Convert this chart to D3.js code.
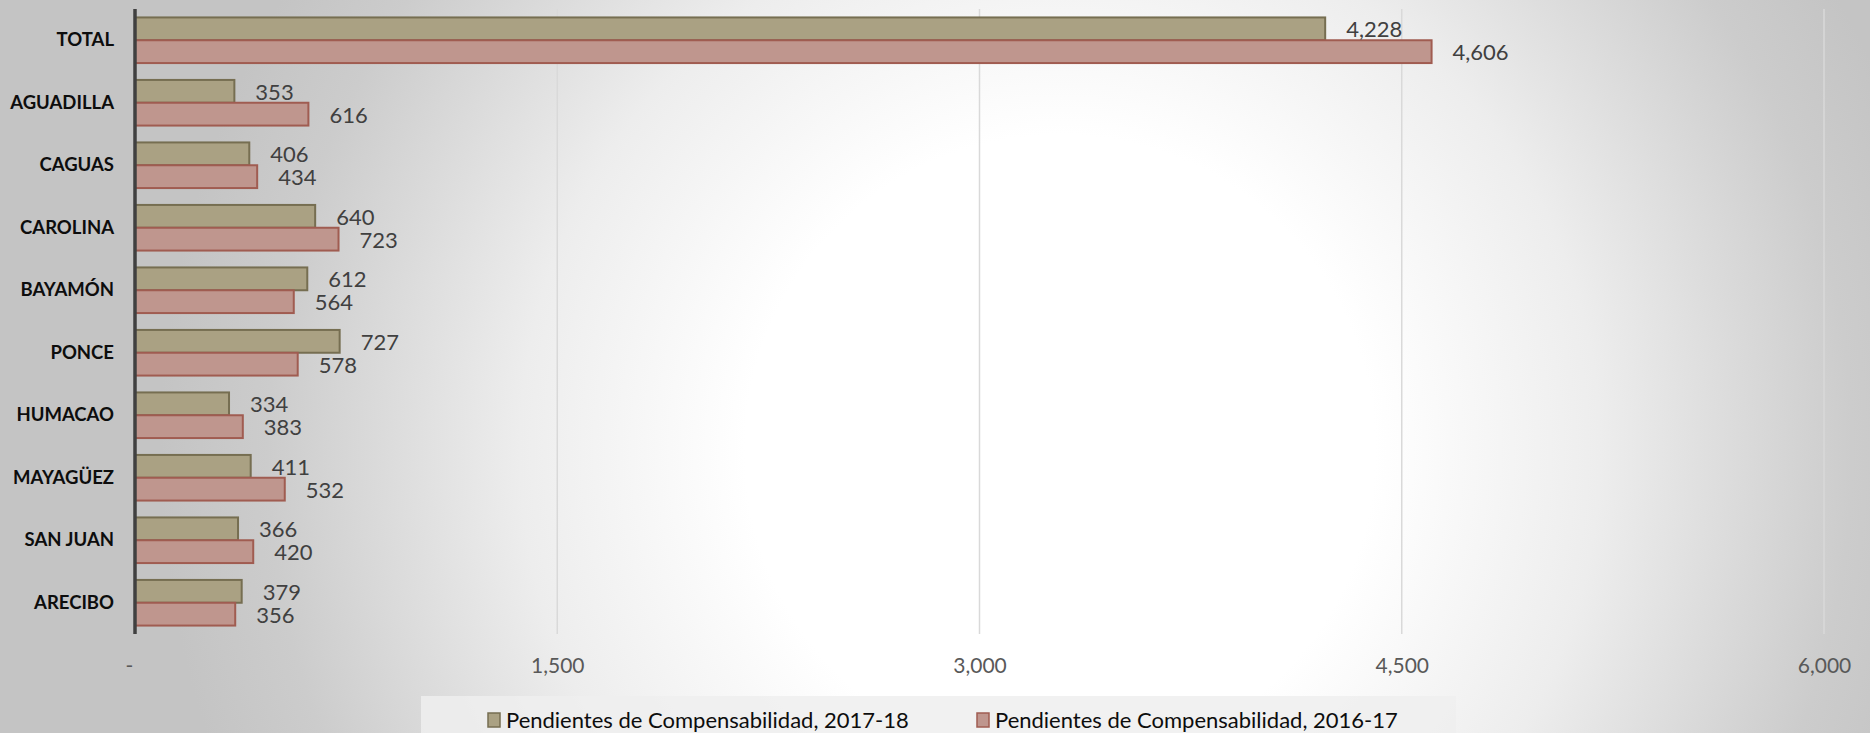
<!DOCTYPE html>
<html>
<head>
<meta charset="utf-8">
<script src="https://cdn.jsdelivr.net/npm/d3@7"></script>
<style>
  html, body { margin: 0; padding: 0; background: #c4c4c4; }
  svg { display: block; }
</style>
</head>
<body>
<div id="chart"></div>
<script>
// data
var categories = ["TOTAL", "AGUADILLA", "CAGUAS", "CAROLINA", "BAYAMÓN", "PONCE", "HUMACAO", "MAYAGÜEZ", "SAN JUAN", "ARECIBO"]
var series = ["Pendientes de Compensabilidad, 2017-18", "Pendientes de Compensabilidad, 2016-17"]
var values1718 = [4228, 353, 406, 640, 612, 727, 334, 411, 366, 379]
var values1617 = [4606, 616, 434, 723, 564, 578, 383, 532, 420, 356]
var xTicks = [0, 1500, 3000, 4500, 6000]

var colors = { fill: ["#aaa183", "#bf968e"], stroke: ["#766e51", "#a05c51"] }

var width = 1870, height = 733
var plot = { left: 135, right: 1824, top: 9, bottom: 634 }

const svg = d3.select("#chart")
  .append("svg")
  .attr("width", width)
  .attr("height", height)

// background radial gradient
const defs = svg.append("defs")
const grad = defs.append("radialGradient")
  .attr("id", "bg")
  .attr("gradientUnits", "userSpaceOnUse")
  .attr("cx", 1060).attr("cy", 450).attr("r", 900)
grad.selectAll("stop")
  .data([[0, "#ffffff"], [0.35, "#ffffff"], [0.6, "#ededed"], [0.88, "#cccccc"], [1, "#c4c4c4"]])
  .join("stop")
  .attr("offset", d => d[0])
  .attr("stop-color", d => d[1])

svg.append("rect")
  .attr("width", width)
  .attr("height", height)
  .attr("fill", "url(#bg)")

const x = d3.scaleLinear()
  .domain([0, 6000])
  .range([plot.left, plot.right])

const y = d3.scaleBand()
  .domain(categories)
  .range([plot.top, plot.bottom])
  .paddingInner(0.27)
  .paddingOuter(0.135)

const ySub = d3.scaleBand()
  .domain(series)
  .range([0, y.bandwidth()])

// gridlines
svg.append("g")
  .selectAll("line")
  .data(xTicks.filter(d => d > 0))
  .join("line")
  .attr("x1", d => x(d)).attr("x2", d => x(d))
  .attr("y1", plot.top).attr("y2", plot.bottom)
  .attr("stroke", "#d9d9d9")
  .attr("stroke-width", 1.5)

// x axis labels
const xAxis = svg.append("g")
  .attr("transform", "translate(0," + (plot.bottom + 32) + ")")
  .call(d3.axisBottom(x)
    .tickValues(xTicks)
    .tickSize(0)
    .tickFormat(d => d === 0 ? "-" : d3.format(",")(d)))
xAxis.select(".domain").remove()
xAxis.selectAll("text")
  .attr("dy", "0.35em")
  .attr("y", 0)
  .attr("fill", "#595959")
  .style("font-family", "Lato, sans-serif")
  .style("font-size", "21px")
xAxis.selectAll(".tick")
  .filter(d => d === 0)
  .select("text")
  .attr("dx", -6)

// bars
const rows = categories.map((c, i) => ({ cat: c, vals: [values1718[i], values1617[i]] }))

const group = svg.append("g")
  .selectAll("g")
  .data(rows)
  .join("g")
  .attr("transform", d => "translate(0," + y(d.cat) + ")")

group.selectAll("rect")
  .data(d => d.vals.map((v, j) => ({ s: series[j], j: j, v: v })))
  .join("rect")
  .attr("x", x(0))
  .attr("y", d => ySub(d.s))
  .attr("width", d => x(d.v) - x(0))
  .attr("height", ySub.bandwidth())
  .attr("fill", d => colors.fill[d.j])
  .attr("stroke", d => colors.stroke[d.j])
  .attr("stroke-width", 2)

group.selectAll("text.val")
  .data(d => d.vals.map((v, j) => ({ s: series[j], j: j, v: v })))
  .join("text")
  .attr("class", "val")
  .attr("x", d => x(d.v) + 21)
  .attr("y", d => ySub(d.s) + ySub.bandwidth() / 2)
  .attr("dy", "0.38em")
  .attr("fill", "#404040")
  .style("font-family", "Lato, sans-serif")
  .style("font-size", "22px")
  .text(d => d3.format(",")(d.v))

// category labels
const yAxis = svg.append("g")
  .attr("transform", "translate(" + (plot.left - 21) + ",0)")
  .call(d3.axisLeft(y).tickSize(0))
yAxis.select(".domain").remove()
yAxis.selectAll("text")
  .attr("x", 0)
  .attr("fill", "#0d0d0d")
  .style("font-family", "Lato, sans-serif")
  .style("font-size", "18.5px")
  .style("font-weight", "bold")

// value axis line
svg.append("line")
  .attr("x1", x(0)).attr("x2", x(0))
  .attr("y1", plot.top).attr("y2", plot.bottom)
  .attr("stroke", "#404040")
  .attr("stroke-width", 3.5)

// legend
const legend = svg.append("g")
legend.append("rect")
  .attr("x", 421).attr("y", 696)
  .attr("width", 1035).attr("height", 40)
  .attr("fill", "#efefef")
  .attr("opacity", 0.85)

const legendX = d3.scaleOrdinal().domain(series).range([488, 977])
const item = legend.selectAll("g")
  .data(series)
  .join("g")
  .attr("transform", d => "translate(" + legendX(d) + ",720)")
item.append("rect")
  .attr("x", 0).attr("y", -7)
  .attr("width", 12).attr("height", 14)
  .attr("fill", (d, i) => colors.fill[i])
  .attr("stroke", (d, i) => colors.stroke[i])
  .attr("stroke-width", 1.5)
item.append("text")
  .attr("x", 18)
  .attr("dy", "0.36em")
  .attr("fill", "#0d0d0d")
  .style("font-family", "Lato, sans-serif")
  .style("font-size", "22px")
  .text(d => d)
</script>
</body>
</html>
